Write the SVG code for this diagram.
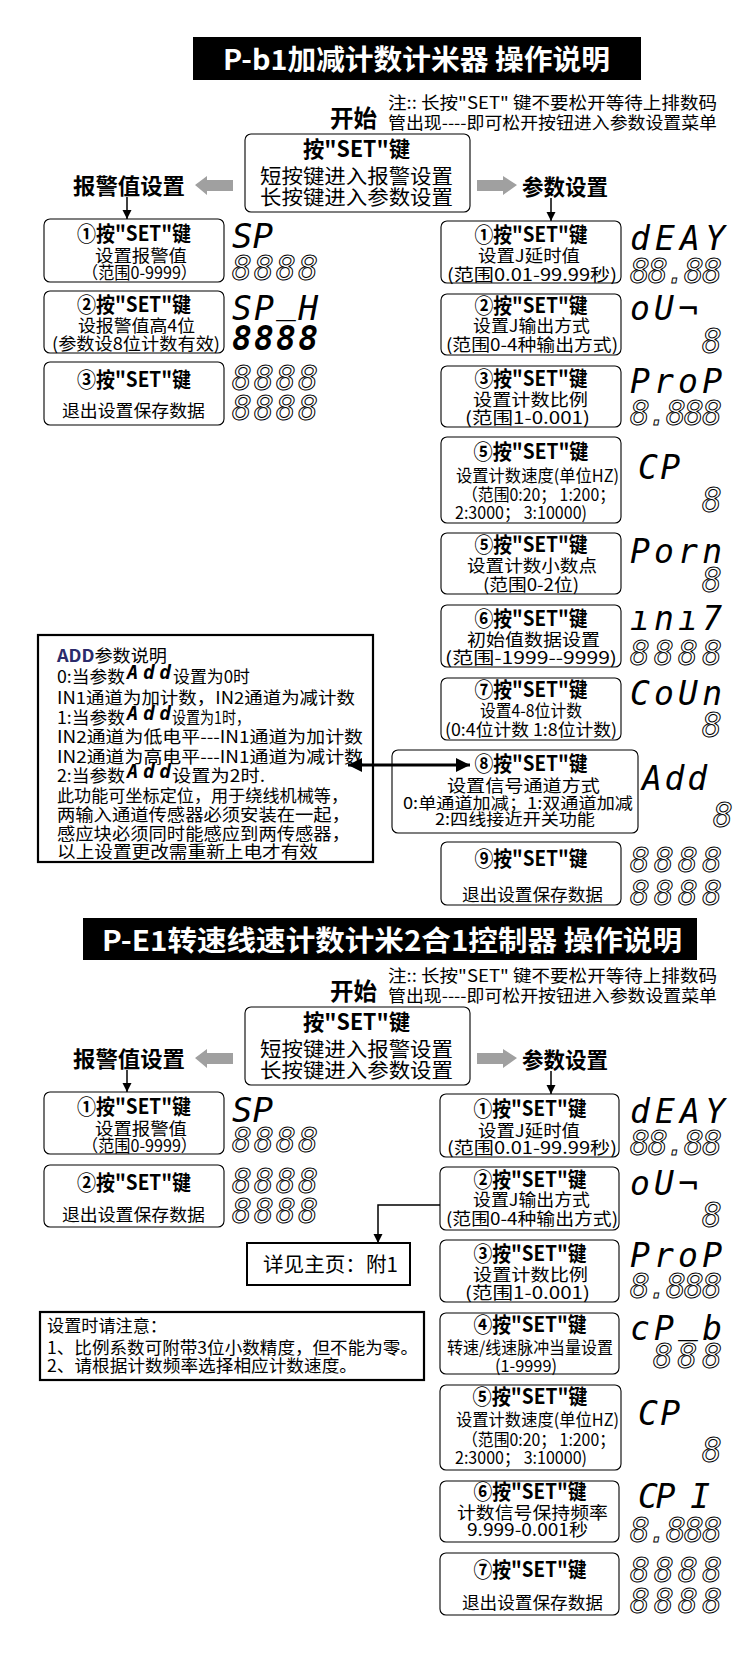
<svg xmlns="http://www.w3.org/2000/svg" width="754" height="1654" viewBox="0 0 754 1654">
<defs>
<style>
.bx{fill:#fff;stroke:#000;stroke-width:1.1}
.bk{fill:#fff;stroke:#000;stroke-width:2.2}
.cn{font-family:"Noto Sans CJK SC","Noto Sans CJK JP",sans-serif;fill:#000}
.hd{font-size:21px;font-weight:700;text-anchor:middle}
.bd{font-size:17px}
.sm{font-size:16px}
.sg{font-family:"DejaVu Sans Mono",monospace;font-style:italic;font-size:33px;fill:#000}
.si{font-family:"DejaVu Sans Mono",monospace;font-style:italic;font-size:19px;font-weight:700;fill:#000}
.so{fill:#fff;stroke:#000;stroke-width:1}
.ln{fill:none;stroke:#000;stroke-width:1.5}
.ga{fill:#a0a0a0}
.ttl{font-family:"Noto Sans CJK SC",sans-serif;font-size:28px;font-weight:700;fill:#fff}
</style>
<marker id="ah" viewBox="0 0 10 10" refX="10" refY="5" markerWidth="9" markerHeight="10" markerUnits="userSpaceOnUse" orient="auto"><path d="M0,0 L10,5 L0,10 z" fill="#000"/></marker>
<marker id="ab" viewBox="0 0 10 10" refX="10" refY="5" markerWidth="15" markerHeight="14" markerUnits="userSpaceOnUse" orient="auto-start-reverse"><path d="M0,0 L10,5 L0,10 z" fill="#000"/></marker>
</defs>
<rect width="754" height="1654" fill="#fff"/>

<!-- ===== Header 1 ===== -->
<g id="title1"><rect x="193" y="37" width="448" height="43" fill="#000"/><text class="ttl" x="223" y="70" textLength="387" lengthAdjust="spacingAndGlyphs">P-b1加减计数计米器  操作说明</text></g>
<g id="start1"><text class="cn" x="330" y="127" font-size="24" font-weight="700" textLength="47" lengthAdjust="spacingAndGlyphs">开始</text></g>
<g id="note1"><text class="cn bd" x="388" y="109" textLength="329" lengthAdjust="spacingAndGlyphs">注:: 长按"SET" 键不要松开等待上排数码</text><text class="cn bd" x="388" y="129" textLength="329" lengthAdjust="spacingAndGlyphs">管出现----即可松开按钮进入参数设置菜单</text></g>
<g id="setkey1"><rect class="bx" x="245" y="134" width="225" height="78" rx="6"/><text class="cn" x="356.5" y="157" font-size="22" font-weight="700" text-anchor="middle" textLength="107" lengthAdjust="spacingAndGlyphs">按"SET"键</text><text class="cn" x="260" y="184" font-size="20" textLength="193" lengthAdjust="spacingAndGlyphs">短按键进入报警设置</text><text class="cn" x="260" y="205" font-size="20" textLength="193" lengthAdjust="spacingAndGlyphs">长按键进入参数设置</text></g>
<g id="alarmlabel1"><text class="cn" x="73" y="194" font-size="22" font-weight="700" textLength="112" lengthAdjust="spacingAndGlyphs">报警值设置</text></g>
<g id="paramlabel1"><text class="cn" x="522" y="195" font-size="22" font-weight="700" textLength="86" lengthAdjust="spacingAndGlyphs">参数设置</text></g>

<!-- Left column top -->
<g id="L1"><rect class="bx" x="44" y="219" width="180" height="63" rx="6"/><text class="cn hd" x="134" y="241" textLength="114" lengthAdjust="spacingAndGlyphs">①按"SET"键</text><text class="cn bd" x="95" y="262" textLength="92" lengthAdjust="spacingAndGlyphs">设置报警值</text><text class="cn bd" x="82" y="279" textLength="115" lengthAdjust="spacingAndGlyphs">（范围0-9999）</text>
<text class="sg" x="232" y="248" textLength="41" lengthAdjust="spacingAndGlyphs">SP</text><text class="sg so" x="232" y="280" textLength="86" lengthAdjust="spacing">8888</text></g>
<g id="L2"><rect class="bx" x="44" y="291" width="180" height="62" rx="6"/><text class="cn hd" x="134" y="312" textLength="114" lengthAdjust="spacingAndGlyphs">②按"SET"键</text><text class="cn bd" x="78" y="332" textLength="117" lengthAdjust="spacingAndGlyphs">设报警值高4位</text><text class="cn bd" x="52" y="350" textLength="168" lengthAdjust="spacingAndGlyphs">(参数设8位计数有效)</text>
<text class="sg" x="232" y="320" textLength="86" lengthAdjust="spacing">SP<tspan dy="-7">_</tspan><tspan dy="7">H</tspan></text><text class="sg" x="232" y="350" font-weight="700" textLength="86" lengthAdjust="spacing">8888</text></g>
<g id="L3"><rect class="bx" x="44" y="362" width="180" height="63" rx="6"/><text class="cn hd" x="134" y="387" textLength="114" lengthAdjust="spacingAndGlyphs">③按"SET"键</text><text class="cn bd" x="62" y="417" textLength="143" lengthAdjust="spacingAndGlyphs">退出设置保存数据</text>
<text class="sg so" x="232" y="390" textLength="86" lengthAdjust="spacing">8888</text><text class="sg so" x="232" y="420" textLength="86" lengthAdjust="spacing">8888</text></g>

<!-- Right column top -->
<g id="R1"><rect class="bx" x="441" y="221" width="180" height="62" rx="6"/><text class="cn hd" x="531" y="242" textLength="113" lengthAdjust="spacingAndGlyphs">①按"SET"键</text><text class="cn bd" x="478" y="262" textLength="102" lengthAdjust="spacingAndGlyphs">设置J延时值</text><text class="cn bd" x="447" y="281" textLength="170" lengthAdjust="spacingAndGlyphs">(范围0.01-99.99秒)</text>
<text class="sg" x="630" y="250" textLength="95" lengthAdjust="spacing">dEAY</text><text class="sg so" x="630" y="283" textLength="92" lengthAdjust="spacing">88.88</text></g>
<g id="R2"><rect class="bx" x="441" y="294" width="180" height="61" rx="6"/><text class="cn hd" x="531" y="313" textLength="113" lengthAdjust="spacingAndGlyphs">②按"SET"键</text><text class="cn bd" x="473" y="332" textLength="117" lengthAdjust="spacingAndGlyphs">设置J输出方式</text><text class="cn bd" x="446" y="351" textLength="172" lengthAdjust="spacingAndGlyphs">(范围0-4种输出方式)</text>
<text class="sg" x="630" y="320" textLength="68" lengthAdjust="spacing">oU¬</text><text class="sg so" x="702" y="353">8</text></g>
<g id="R3"><rect class="bx" x="441" y="366" width="180" height="61" rx="6"/><text class="cn hd" x="531" y="386" textLength="113" lengthAdjust="spacingAndGlyphs">③按"SET"键</text><text class="cn bd" x="473" y="406" textLength="115" lengthAdjust="spacingAndGlyphs">设置计数比例</text><text class="cn bd" x="465" y="424" textLength="125" lengthAdjust="spacingAndGlyphs">(范围1-0.001)</text>
<text class="sg" x="630" y="393" textLength="92" lengthAdjust="spacing">ProP</text><text class="sg so" x="630" y="425" textLength="92" lengthAdjust="spacing">8.888</text></g>
<g id="R4"><rect class="bx" x="441" y="437" width="180" height="86" rx="6"/><text class="cn hd" x="531" y="459" textLength="115" lengthAdjust="spacingAndGlyphs">⑤按"SET"键</text><text class="cn bd" x="456" y="482" textLength="163" lengthAdjust="spacingAndGlyphs">设置计数速度(单位HZ)</text><text class="cn bd" x="462" y="501" textLength="153" lengthAdjust="spacingAndGlyphs">（范围0:20； 1:200；</text><text class="cn bd" x="455" y="519" textLength="132" lengthAdjust="spacingAndGlyphs">2:3000； 3:10000)</text>
<text class="sg" x="638" y="479" textLength="42" lengthAdjust="spacing">CP</text><text class="sg so" x="702" y="512">8</text></g>
<g id="R5"><rect class="bx" x="441" y="533" width="180" height="61" rx="6"/><text class="cn hd" x="531" y="552" textLength="113" lengthAdjust="spacingAndGlyphs">⑤按"SET"键</text><text class="cn bd" x="467" y="572" textLength="130" lengthAdjust="spacingAndGlyphs">设置计数小数点</text><text class="cn bd" x="483" y="591" textLength="96" lengthAdjust="spacingAndGlyphs">(范围0-2位)</text>
<text class="sg" x="630" y="563" textLength="92" lengthAdjust="spacing">Porn</text><text class="sg so" x="702" y="592">8</text></g>
<g id="R6"><rect class="bx" x="441" y="605" width="180" height="62" rx="6"/><text class="cn hd" x="531" y="626" textLength="113" lengthAdjust="spacingAndGlyphs">⑥按"SET"键</text><text class="cn bd" x="467" y="646" textLength="133" lengthAdjust="spacingAndGlyphs">初始值数据设置</text><text class="cn bd" x="445" y="664" textLength="172" lengthAdjust="spacingAndGlyphs">(范围-1999--9999)</text>
<text class="sg" x="630" y="630" textLength="92" lengthAdjust="spacing">ını7</text><text class="sg so" x="630" y="665" textLength="92" lengthAdjust="spacing">8888</text></g>
<g id="R7"><rect class="bx" x="441" y="678" width="180" height="62" rx="6"/><text class="cn hd" x="531" y="697" textLength="113" lengthAdjust="spacingAndGlyphs">⑦按"SET"键</text><text class="cn bd" x="480" y="717" textLength="102" lengthAdjust="spacingAndGlyphs">设置4-8位计数</text><text class="cn bd" x="445" y="736" textLength="172" lengthAdjust="spacingAndGlyphs">(0:4位计数  1:8位计数)</text>
<text class="sg" x="630" y="705" textLength="92" lengthAdjust="spacing">CoUn</text><text class="sg so" x="702" y="737">8</text></g>
<g id="R8"><rect class="bx" x="392" y="750" width="246" height="83" rx="6"/><text class="cn hd" x="531" y="771" textLength="113" lengthAdjust="spacingAndGlyphs">⑧按"SET"键</text><text class="cn bd" x="447" y="792" textLength="153" lengthAdjust="spacingAndGlyphs">设置信号通道方式</text><text class="cn sm" x="403" y="809" textLength="230" lengthAdjust="spacingAndGlyphs">0:单通道加减；1:双通道加减</text><text class="cn sm" x="435" y="825" textLength="160" lengthAdjust="spacingAndGlyphs">2:四线接近开关功能</text>
<text class="sg" x="642" y="790" textLength="65" lengthAdjust="spacing">Add</text><text class="sg so" x="713" y="827">8</text></g>
<g id="R9"><rect class="bx" x="441" y="842" width="180" height="63" rx="6"/><text class="cn hd" x="531" y="866" textLength="113" lengthAdjust="spacingAndGlyphs">⑨按"SET"键</text><text class="cn bd" x="462" y="901" textLength="141" lengthAdjust="spacingAndGlyphs">退出设置保存数据</text>
<text class="sg so" x="630" y="872" textLength="92" lengthAdjust="spacing">8888</text><text class="sg so" x="630" y="905" textLength="92" lengthAdjust="spacing">8888</text></g>

<!-- ADD description -->
<g id="addnote"><rect class="bk" x="38" y="635" width="335" height="227"/>
<text class="cn bd" x="57" y="662" textLength="110" lengthAdjust="spacingAndGlyphs"><tspan font-weight="700" fill="#2b2b6b">ADD</tspan>参数说明</text>
<text class="cn bd" x="57" y="683" textLength="68" lengthAdjust="spacingAndGlyphs">0:当参数</text><text class="si" x="127" y="679" textLength="44" lengthAdjust="spacing">Add</text><text class="cn bd" x="173" y="683" textLength="77" lengthAdjust="spacingAndGlyphs">设置为0时</text>
<text class="cn bd" x="57" y="704" textLength="298" lengthAdjust="spacingAndGlyphs">IN1通道为加计数，IN2通道为减计数</text>
<text class="cn bd" x="57" y="724" textLength="68" lengthAdjust="spacingAndGlyphs">1:当参数</text><text class="si" x="127" y="720" textLength="44" lengthAdjust="spacing">Add</text><text class="cn bd" x="172" y="724" textLength="78" lengthAdjust="spacingAndGlyphs">设置为1时，</text>
<text class="cn bd" x="57" y="743" textLength="306" lengthAdjust="spacingAndGlyphs">IN2通道为低电平---IN1通道为加计数</text>
<text class="cn bd" x="57" y="763" textLength="306" lengthAdjust="spacingAndGlyphs">IN2通道为高电平---IN1通道为减计数</text>
<text class="cn bd" x="57" y="782" textLength="68" lengthAdjust="spacingAndGlyphs">2:当参数</text><text class="si" x="127" y="778" textLength="44" lengthAdjust="spacing">Add</text><text class="cn bd" x="172" y="782" textLength="93" lengthAdjust="spacingAndGlyphs">设置为2时.</text>
<text class="cn bd" x="57" y="802" textLength="291" lengthAdjust="spacingAndGlyphs">此功能可坐标定位，用于绕线机械等，</text>
<text class="cn bd" x="57" y="821" textLength="293" lengthAdjust="spacingAndGlyphs">两输入通道传感器必须安装在一起，</text>
<text class="cn bd" x="57" y="840" textLength="293" lengthAdjust="spacingAndGlyphs">感应块必须同时能感应到两传感器，</text>
<text class="cn bd" x="57" y="858" textLength="261" lengthAdjust="spacingAndGlyphs">以上设置更改需重新上电才有效</text>
</g>

<!-- ===== Header 2 ===== -->
<g id="title2"><rect x="83" y="918" width="614" height="42" fill="#000"/><text class="ttl" x="102" y="951" textLength="580" lengthAdjust="spacingAndGlyphs">P-E1转速线速计数计米2合1控制器   操作说明</text></g>
<g id="start2" transform="translate(0,873)"><text class="cn" x="330" y="127" font-size="24" font-weight="700" textLength="47" lengthAdjust="spacingAndGlyphs">开始</text></g>
<g id="note2" transform="translate(0,873)"><text class="cn bd" x="388" y="109" textLength="329" lengthAdjust="spacingAndGlyphs">注:: 长按"SET" 键不要松开等待上排数码</text><text class="cn bd" x="388" y="129" textLength="329" lengthAdjust="spacingAndGlyphs">管出现----即可松开按钮进入参数设置菜单</text></g>
<g id="setkey2" transform="translate(0,873)"><rect class="bx" x="245" y="134" width="225" height="78" rx="6"/><text class="cn" x="356.5" y="157" font-size="22" font-weight="700" text-anchor="middle" textLength="107" lengthAdjust="spacingAndGlyphs">按"SET"键</text><text class="cn" x="260" y="184" font-size="20" textLength="193" lengthAdjust="spacingAndGlyphs">短按键进入报警设置</text><text class="cn" x="260" y="205" font-size="20" textLength="193" lengthAdjust="spacingAndGlyphs">长按键进入参数设置</text></g>
<g id="alarmlabel2" transform="translate(0,873)"><text class="cn" x="73" y="194" font-size="22" font-weight="700" textLength="112" lengthAdjust="spacingAndGlyphs">报警值设置</text></g>
<g id="paramlabel2" transform="translate(0,873)"><text class="cn" x="522" y="195" font-size="22" font-weight="700" textLength="86" lengthAdjust="spacingAndGlyphs">参数设置</text></g>

<!-- Left column bottom -->
<g id="BL1"><rect class="bx" x="44" y="1092" width="180" height="62" rx="6"/><text class="cn hd" x="134" y="1114" textLength="114" lengthAdjust="spacingAndGlyphs">①按"SET"键</text><text class="cn bd" x="95" y="1135" textLength="92" lengthAdjust="spacingAndGlyphs">设置报警值</text><text class="cn bd" x="82" y="1152" textLength="115" lengthAdjust="spacingAndGlyphs">（范围0-9999）</text>
<text class="sg" x="232" y="1122" textLength="41" lengthAdjust="spacingAndGlyphs">SP</text><text class="sg so" x="232" y="1152" textLength="86" lengthAdjust="spacing">8888</text></g>
<g id="BL2"><rect class="bx" x="44" y="1165" width="180" height="62" rx="6"/><text class="cn hd" x="134" y="1190" textLength="114" lengthAdjust="spacingAndGlyphs">②按"SET"键</text><text class="cn bd" x="62" y="1221" textLength="143" lengthAdjust="spacingAndGlyphs">退出设置保存数据</text>
<text class="sg so" x="232" y="1193" textLength="86" lengthAdjust="spacing">8888</text><text class="sg so" x="232" y="1223" textLength="86" lengthAdjust="spacing">8888</text></g>
<g id="detail"><rect x="247" y="1243" width="163" height="42" fill="#fff" stroke="#000" stroke-width="2"/><text class="cn" x="263" y="1272" font-size="20" textLength="135" lengthAdjust="spacingAndGlyphs">详见主页：附1</text></g>
<g id="caution"><rect class="bk" x="40" y="1312" width="384" height="68"/><text class="cn bd" x="47" y="1332" textLength="120" lengthAdjust="spacingAndGlyphs">设置时请注意：</text><text class="cn bd" x="47" y="1354" textLength="371" lengthAdjust="spacingAndGlyphs">1、比例系数可附带3位小数精度，但不能为零。</text><text class="cn bd" x="47" y="1372" textLength="310" lengthAdjust="spacingAndGlyphs">2、请根据计数频率选择相应计数速度。</text></g>

<!-- Right column bottom -->
<g id="BR1"><rect class="bx" x="440" y="1094" width="179" height="63" rx="6"/><text class="cn hd" x="530" y="1116" textLength="113" lengthAdjust="spacingAndGlyphs">①按"SET"键</text><text class="cn bd" x="478" y="1137" textLength="102" lengthAdjust="spacingAndGlyphs">设置J延时值</text><text class="cn bd" x="447" y="1154" textLength="170" lengthAdjust="spacingAndGlyphs">(范围0.01-99.99秒)</text>
<text class="sg" x="630" y="1123" textLength="95" lengthAdjust="spacing">dEAY</text><text class="sg so" x="630" y="1155" textLength="92" lengthAdjust="spacing">88.88</text></g>
<g id="BR2"><rect class="bx" x="440" y="1167" width="179" height="63" rx="6"/><text class="cn hd" x="530" y="1187" textLength="113" lengthAdjust="spacingAndGlyphs">②按"SET"键</text><text class="cn bd" x="473" y="1206" textLength="117" lengthAdjust="spacingAndGlyphs">设置J输出方式</text><text class="cn bd" x="446" y="1225" textLength="172" lengthAdjust="spacingAndGlyphs">(范围0-4种输出方式)</text>
<text class="sg" x="630" y="1195" textLength="68" lengthAdjust="spacing">oU¬</text><text class="sg so" x="702" y="1227">8</text></g>
<g id="BR3"><rect class="bx" x="440" y="1240" width="179" height="62" rx="6"/><text class="cn hd" x="530" y="1261" textLength="113" lengthAdjust="spacingAndGlyphs">③按"SET"键</text><text class="cn bd" x="473" y="1281" textLength="115" lengthAdjust="spacingAndGlyphs">设置计数比例</text><text class="cn bd" x="465" y="1299" textLength="125" lengthAdjust="spacingAndGlyphs">(范围1-0.001)</text>
<text class="sg" x="630" y="1267" textLength="92" lengthAdjust="spacing">ProP</text><text class="sg so" x="630" y="1298" textLength="92" lengthAdjust="spacing">8.888</text></g>
<g id="BR4"><rect class="bx" x="440" y="1313" width="179" height="61" rx="6"/><text class="cn hd" x="530" y="1332" textLength="113" lengthAdjust="spacingAndGlyphs">④按"SET"键</text><text class="cn bd" x="447" y="1354" textLength="166" lengthAdjust="spacingAndGlyphs">转速/线速脉冲当量设置</text><text class="cn bd" x="495" y="1372" textLength="62" lengthAdjust="spacingAndGlyphs">(1-9999)</text>
<text class="sg" x="630" y="1340" textLength="92" lengthAdjust="spacing">cP<tspan dy="-7">_</tspan><tspan dy="7">b</tspan></text><text class="sg so" x="653" y="1368" textLength="69" lengthAdjust="spacing">888</text></g>
<g id="BR5"><rect class="bx" x="440" y="1385" width="181" height="85" rx="6"/><text class="cn hd" x="530" y="1404" textLength="115" lengthAdjust="spacingAndGlyphs">⑤按"SET"键</text><text class="cn bd" x="456" y="1426" textLength="163" lengthAdjust="spacingAndGlyphs">设置计数速度(单位HZ)</text><text class="cn bd" x="462" y="1446" textLength="153" lengthAdjust="spacingAndGlyphs">（范围0:20； 1:200；</text><text class="cn bd" x="455" y="1464" textLength="132" lengthAdjust="spacingAndGlyphs">2:3000； 3:10000)</text>
<text class="sg" x="638" y="1425" textLength="42" lengthAdjust="spacing">CP</text><text class="sg so" x="702" y="1462">8</text></g>
<g id="BR6"><rect class="bx" x="440" y="1481" width="179" height="61" rx="6"/><text class="cn hd" x="530" y="1499" textLength="113" lengthAdjust="spacingAndGlyphs">⑥按"SET"键</text><text class="cn bd" x="457" y="1519" textLength="151" lengthAdjust="spacingAndGlyphs">计数信号保持频率</text><text class="cn bd" x="467" y="1536" textLength="121" lengthAdjust="spacingAndGlyphs">9.999-0.001秒</text>
<text class="sg" x="638" y="1508" textLength="72" lengthAdjust="spacing">CP I</text><text class="sg so" x="630" y="1542" textLength="92" lengthAdjust="spacing">8.888</text></g>
<g id="BR7"><rect class="bx" x="440" y="1553" width="179" height="62" rx="6"/><text class="cn hd" x="530" y="1577" textLength="113" lengthAdjust="spacingAndGlyphs">⑦按"SET"键</text><text class="cn bd" x="462" y="1609" textLength="141" lengthAdjust="spacingAndGlyphs">退出设置保存数据</text>
<text class="sg so" x="630" y="1582" textLength="92" lengthAdjust="spacing">8888</text><text class="sg so" x="630" y="1613" textLength="92" lengthAdjust="spacing">8888</text></g>

<!-- ===== Connectors ===== -->
<g id="connectors">
<polygon class="ga" points="195,185 207,176 207,180 233,180 233,191 207,191 207,195"/>
<polygon class="ga" points="517,185 503,176 503,180 477,180 477,191 503,191 503,195"/>
<line class="ln" x1="127" y1="197" x2="127" y2="219" marker-end="url(#ah)"/>
<line class="ln" x1="551" y1="198" x2="551" y2="221" marker-end="url(#ah)"/>
<line x1="348" y1="765" x2="470" y2="765" stroke="#000" stroke-width="3" marker-start="url(#ab)" marker-end="url(#ab)"/>
<polygon class="ga" points="195,1058 207,1049 207,1053 233,1053 233,1064 207,1064 207,1068"/>
<polygon class="ga" points="517,1058 503,1049 503,1053 477,1053 477,1064 503,1064 503,1068"/>
<line class="ln" x1="127" y1="1070" x2="127" y2="1092" marker-end="url(#ah)"/>
<line class="ln" x1="551" y1="1071" x2="551" y2="1094" marker-end="url(#ah)"/>
<polyline class="ln" points="440,1205 378,1205 378,1243" marker-end="url(#ah)"/>
</g>
</svg>
